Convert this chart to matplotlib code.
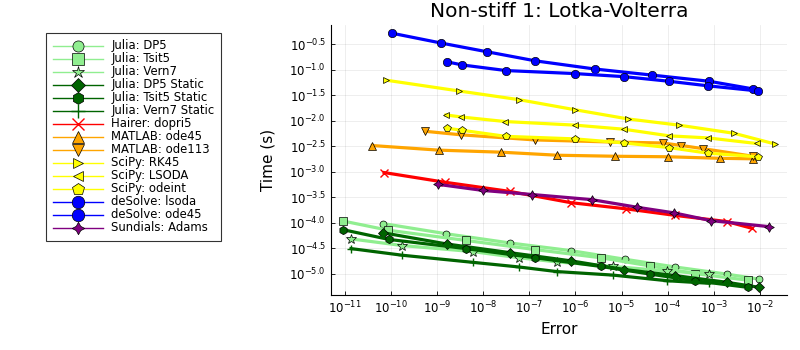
import matplotlib
matplotlib.use("Agg")
import matplotlib.pyplot as plt
from matplotlib.lines import Line2D
import numpy as np

# log10(error), log10(time)
dp5_e = [-10.17, -8.80, -7.42, -6.10, -4.92, -3.84, -2.72, -2.01]
dp5_t = [-4.02, -4.22, -4.40, -4.55, -4.72, -4.87, -5.01, -5.11]
tsit5_e = [-11.04, -10.06, -8.38, -6.87, -5.45, -4.38, -3.41, -2.26]
tsit5_t = [-3.97, -4.15, -4.35, -4.53, -4.69, -4.85, -5.00, -5.13]
vern7_e = [-10.87, -9.76, -8.22, -7.23, -6.41, -5.18, -4.01, -3.10]
vern7_t = [-4.32, -4.45, -4.57, -4.69, -4.77, -4.86, -4.95, -5.00]
dp5s_e = [-10.17, -8.79, -7.42, -6.10, -4.94, -3.83, -2.72, -2.01]
dp5s_t = [-4.20, -4.42, -4.59, -4.75, -4.92, -5.04, -5.17, -5.27]
tsit5s_e = [-11.04, -10.05, -8.38, -6.87, -5.45, -4.38, -3.41, -2.26]
tsit5s_t = [-4.14, -4.33, -4.51, -4.69, -4.86, -5.01, -5.14, -5.27]
vern7s_e = [-10.87, -9.76, -8.22, -7.23, -6.41, -5.18, -4.01, -3.10]
vern7s_t = [-4.51, -4.64, -4.78, -4.87, -4.96, -5.03, -5.14, -5.19]
hairer_e = [-10.15, -8.83, -7.42, -6.10, -4.91, -3.83, -2.72, -2.18]
hairer_t = [-3.02, -3.21, -3.39, -3.61, -3.73, -3.86, -3.98, -4.11]
ode45_e = [-10.41, -8.97, -7.62, -6.39, -5.14, -4.00, -2.87, -2.15]
ode45_t = [-2.49, -2.58, -2.62, -2.68, -2.70, -2.71, -2.74, -2.75]
ode113_e = [-9.27, -8.48, -6.88, -5.25, -4.11, -3.70, -3.24, -2.15]
ode113_t = [-2.21, -2.28, -2.38, -2.42, -2.44, -2.49, -2.55, -2.70]
rk45_e = [-10.10, -8.53, -7.23, -6.00, -4.85, -3.76, -2.56, -1.67]
rk45_t = [-1.21, -1.42, -1.59, -1.79, -1.97, -2.09, -2.25, -2.46]
lsoda_e = [-8.81, -8.48, -7.52, -6.01, -4.95, -3.97, -3.13, -2.07]
lsoda_t = [-1.89, -1.93, -2.02, -2.09, -2.17, -2.30, -2.34, -2.45]
odeint_e = [-8.79, -8.47, -7.51, -6.00, -4.94, -3.97, -3.12, -2.04]
odeint_t = [-2.15, -2.19, -2.31, -2.36, -2.44, -2.53, -2.64, -2.71]
dslsoda_e = [-9.97, -8.92, -7.93, -6.87, -5.58, -4.33, -3.10, -2.15]
dslsoda_t = [-0.29, -0.48, -0.65, -0.83, -0.99, -1.11, -1.23, -1.38]
dsode45_e = [-8.78, -8.46, -7.51, -6.00, -4.94, -3.97, -3.12, -2.04]
dsode45_t = [-0.85, -0.91, -1.02, -1.08, -1.14, -1.23, -1.32, -1.42]
adams_e = [-8.99, -8.01, -6.94, -5.65, -4.66, -3.86, -3.07, -1.80]
adams_t = [-3.25, -3.37, -3.45, -3.55, -3.70, -3.81, -3.96, -4.08]

xtick_exp = [-11, -10, -9, -8, -7, -6, -5, -4, -3, -2]
ytick_exp = [-5.0, -4.5, -4.0, -3.5, -3.0, -2.5, -2.0, -1.5, -1.0, -0.5]

LG = "#90ee90"
DG = "#006400"
STAR4 = (4, 1, 0)
# name, errors, times, colour, marker, plot marker size, legend marker size
series = [
    ("Julia: DP5", dp5_e, dp5_t, LG, "o", 5, 8),
    ("Julia: Tsit5", tsit5_e, tsit5_t, LG, "s", 6, 8.5),
    ("Julia: Vern7", vern7_e, vern7_t, LG, "*", 7, 9),
    ("Julia: DP5 Static", dp5s_e, dp5s_t, DG, "D", 5, 7),
    ("Julia: Tsit5 Static", tsit5s_e, tsit5s_t, DG, "h", 6, 8.5),
    ("Julia: Vern7 Static", vern7s_e, vern7s_t, DG, "+", 6, 10),
    ("Hairer: dopri5", hairer_e, hairer_t, "red", "x", 6, 9),
    ("MATLAB: ode45", ode45_e, ode45_t, "orange", "^", 6, 9),
    ("MATLAB: ode113", ode113_e, ode113_t, "orange", "v", 6, 9),
    ("SciPy: RK45", rk45_e, rk45_t, "yellow", ">", 5, 7),
    ("SciPy: LSODA", lsoda_e, lsoda_t, "yellow", "<", 5, 7),
    ("SciPy: odeint", odeint_e, odeint_t, "yellow", "p", 6, 9),
    ("deSolve: lsoda", dslsoda_e, dslsoda_t, "blue", "o", 6, 9),
    ("deSolve: ode45", dsode45_e, dsode45_t, "blue", "o", 6, 9),
    ("Sundials: Adams", adams_e, adams_t, "purple", STAR4, 7, 9),
]

fig = plt.figure(figsize=(8, 3.5), dpi=100)
ax = fig.add_axes([0.4134, 0.1571, 0.5704, 0.7715])

handles = []
for name, e, t, c, m, ms, lms in series:
    thin = m in ("x", "+")
    kw = dict(color=c, marker=m, markerfacecolor=c,
              markeredgecolor=(c if thin else "black"),
              markeredgewidth=(1.0 if thin else 0.5))
    ax.plot(10.0 ** np.array(e), 10.0 ** np.array(t), lw=2.3, markersize=ms,
            label=name, **kw)
    handles.append(Line2D([], [], lw=1.0, markersize=lms, label=name, **kw))

ax.set_xscale("log")
ax.set_yscale("log")
ax.set_xlim(10 ** -11.31, 10 ** -1.41)
ax.set_ylim(10 ** -5.42, 10 ** -0.127)
ax.set_xticks([10.0 ** v for v in xtick_exp])
ax.set_xticklabels([r"$10^{%d}$" % v for v in xtick_exp])
ax.set_yticks([10.0 ** v for v in ytick_exp])
ax.set_yticklabels([r"$10^{%.1f}$" % v for v in ytick_exp])
ax.minorticks_off()
ax.tick_params(direction="in", labelsize=8.5, length=3, width=0.6)
for s in ("top", "right"):
    ax.spines[s].set_visible(False)
ax.grid(True, color="black", alpha=0.08, lw=0.6)
ax.set_xlabel("Error", fontsize=11)
ax.set_ylabel("Time (s)", fontsize=11, labelpad=10)
ax.set_title("Non-stiff 1: Lotka-Volterra", fontsize=14.5)

leg = fig.legend(handles=handles, loc="upper left", bbox_to_anchor=(0.058, 0.906),
                 fontsize=8.4, frameon=True, fancybox=False, edgecolor="black",
                 handlelength=4.3, handleheight=0.5, labelspacing=0.0,
                 borderpad=0.55, handletextpad=0.7, borderaxespad=0)
leg.get_frame().set_linewidth(0.8)

fig.savefig("out.png", dpi=100)
